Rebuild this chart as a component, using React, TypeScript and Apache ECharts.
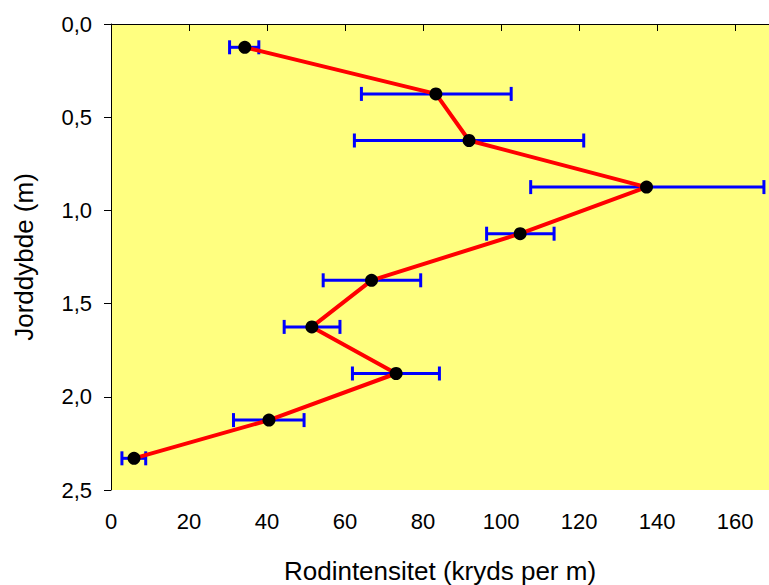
import React, { useEffect, useRef } from "react";
import * as echarts from "echarts";

const depths = [0.125, 0.375, 0.625, 0.875, 1.125, 1.375, 1.625, 1.875, 2.125, 2.33];
const intensity = [34.3, 83.3, 91.8, 137.3, 104.9, 66.8, 51.5, 73.1, 40.5, 5.9];
const errLow = [30.4, 64.2, 62.4, 107.6, 96.3, 54.4, 44.4, 61.9, 31.4, 2.8];
const errHigh = [37.9, 102.6, 121.2, 167.4, 113.6, 79.4, 58.7, 84.2, 49.5, 8.9];
const xTicks = [0, 20, 40, 60, 80, 100, 120, 140, 160];
const yTicks = [0, 0.5, 1.0, 1.5, 2.0, 2.5];

const FONT = "Liberation Sans, Arial, sans-serif";

export default function App() {
  const ref = useRef<HTMLDivElement>(null);
  useEffect(() => {
    if (!ref.current) return;
    const chart = echarts.init(ref.current, null, { renderer: "svg" });
    const lineData = intensity.map((v, i) => [v, depths[i]]);
    const errData = depths.map((d, i) => [d, errLow[i], errHigh[i]]);
    chart.setOption({
      animation: false,
      backgroundColor: "#ffffff",
      grid: {
        left: 111,
        top: 24,
        right: 0,
        bottom: 95,
        show: true,
        backgroundColor: "#ffff80",
        borderWidth: 0,
        containLabel: false,
        outerBoundsMode: "none",
      },
      xAxis: [
        {
          type: "value",
          min: 0,
          max: 168.7,
          interval: 20,
          position: "bottom",
          name: "Rodintensitet (kryds per m)",
          nameLocation: "middle",
          nameGap: 68,
          nameTextStyle: { fontFamily: FONT, fontSize: 26, color: "#000" },
          axisLine: { show: true, lineStyle: { color: "#000", width: 1 } },
          axisTick: { show: true, length: 7, lineStyle: { color: "#000" } },
          axisLabel: {
            fontFamily: FONT,
            fontSize: 22,
            color: "#000",
            margin: 20,
            showMaxLabel: false,
            formatter: (v: number) => (xTicks.includes(v) ? String(v) : ""),
          },
          splitLine: { show: false },
        },
        {
          type: "value",
          min: 0,
          max: 168.7,
          position: "top",
          axisLine: { show: true, lineStyle: { color: "#000", width: 1 } },
          axisTick: { show: false },
          axisLabel: { show: false },
          splitLine: { show: false },
        },
      ],
      yAxis: {
        type: "value",
        inverse: true,
        min: 0,
        max: 2.5,
        interval: 0.5,
        name: "Jorddybde (m)",
        nameLocation: "middle",
        nameGap: 74,
        nameTextStyle: { fontFamily: FONT, fontSize: 26, color: "#000" },
        axisLine: { show: true, lineStyle: { color: "#000", width: 1 } },
        axisTick: { show: true, length: 7, lineStyle: { color: "#000" } },
        axisLabel: {
          fontFamily: FONT,
          fontSize: 22,
          color: "#000",
          margin: 19,
          formatter: (v: number) =>
            yTicks.some((t) => Math.abs(t - v) < 1e-9) ? v.toFixed(1).replace(".", ",") : "",
        },
        splitLine: { show: false },
      },
      series: [
        {
          type: "custom",
          z: 2,
          data: errData,
          encode: { y: 0, x: [1, 2] },
          renderItem: (params: any, api: any) => {
            const y = api.value(0);
            const lo = api.coord([api.value(1), y]);
            const hi = api.coord([api.value(2), y]);
            const cap = 7;
            const style = { stroke: "#0000ff", lineWidth: 3 };
            return {
              type: "group",
              children: [
                { type: "line", shape: { x1: lo[0], y1: lo[1], x2: hi[0], y2: hi[1] }, style },
                { type: "line", shape: { x1: lo[0], y1: lo[1] - cap, x2: lo[0], y2: lo[1] + cap }, style },
                { type: "line", shape: { x1: hi[0], y1: hi[1] - cap, x2: hi[0], y2: hi[1] + cap }, style },
              ],
            };
          },
        },
        {
          type: "line",
          z: 3,
          data: lineData,
          symbol: "circle",
          symbolSize: 13,
          showAllSymbol: true,
          itemStyle: { color: "#000000", borderWidth: 0 },
          lineStyle: { color: "#ff0000", width: 4 },
        },
      ],
    });
    return () => chart.dispose();
  }, []);
  return <div ref={ref} style={{ width: 769, height: 585, position: "absolute", left: 0, top: 0 }} />;
}
